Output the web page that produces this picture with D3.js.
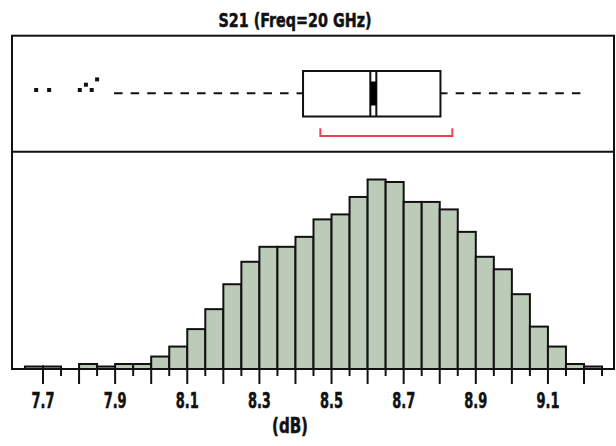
<!DOCTYPE html>
<html><head><meta charset="utf-8">
<script src="https://cdn.jsdelivr.net/npm/d3@7"></script>
<style>body{margin:0;background:#fff;}svg{display:block;}</style>
</head><body>
<svg id="c" width="616" height="446"></svg>
<script>
// ---- data ----
const binStarts = [7.65,7.70,7.75,7.80,7.85,7.90,7.95,8.00,8.05,8.10,8.15,8.20,8.25,8.30,8.35,8.40,8.45,8.50,8.55,8.60,8.65,8.70,8.75,8.80,8.85,8.90,8.95,9.00,9.05,9.10,9.15,9.20];
const binCounts = [1,1,0,2,1,2,2,5,9,16,24,34,43,49,49,53,60,62,69,76,75,67,67,64,55,45,40,30,17,9,2,1];
const binWidth = 0.05;
const tickLabels = ["7.7","7.9","8.1","8.3","8.5","8.7","8.9","9.1"];
const boxStats = {low:7.897, q1:8.421, median:8.615, q3:8.802, high:9.190};
const shortestHalf = [8.469, 8.835];
const outliers = [7.681, 7.717, 7.802, 7.819, 7.835, 7.850];
const outlierJitter = [0, 0, 0, 1, 0, 2];
const title = "S21 (Freq=20 GHz)";
const xTitle = "(dB)";

// ---- layout ----
const svg = d3.select("#c");
const L = 12, R = 614, T = 35.7, MID = 151.7, B = 369;
const x = d3.scaleLinear().domain([7.7, 9.2]).range([43, 584]);
const y = d3.scaleLinear().domain([0, 76]).range([B, 179.5]);
const font = "'Liberation Sans Narrow','DejaVu Sans Condensed','Liberation Sans',sans-serif";

// title
svg.append("text").attr("x", 295).attr("y", 26.5).attr("text-anchor","middle")
  .attr("font-family", font).attr("font-weight","bold").attr("font-size",20)
  .attr("textLength",153).attr("lengthAdjust","spacingAndGlyphs")
  .attr("fill","#111").attr("stroke","#111").attr("stroke-width",0.5).text(title);

// histogram bars
svg.append("g").selectAll("rect").data(binStarts.map((s,i)=>({s,c:binCounts[i]})).filter(d=>d.c>0))
  .join("rect")
  .attr("x", d=>x(d.s)).attr("width", d=>x(d.s+binWidth)-x(d.s))
  .attr("y", d=>y(d.c)).attr("height", d=>y(0)-y(d.c))
  .attr("fill","#bccab8").attr("stroke","#111").attr("stroke-width",2);

// axis ticks
const major = d3.range(7.7, 9.2001, 0.1);
const minor = d3.range(7.75, 9.2501, 0.1);
const tg = svg.append("g").attr("stroke","#111").attr("stroke-width",2);
tg.selectAll(".mj").data(major).join("line").attr("class","mj")
  .attr("x1",d=>x(d)).attr("x2",d=>x(d)).attr("y1",B).attr("y2",B+15);
tg.selectAll(".mn").data(minor).join("line").attr("class","mn")
  .attr("x1",d=>x(d)).attr("x2",d=>x(d)).attr("y1",B).attr("y2",B+7);

svg.append("g").selectAll("text").data(tickLabels).join("text")
  .attr("x", d=>x(+d)).attr("y", 407.5).attr("text-anchor","middle")
  .attr("font-family", font).attr("font-weight","bold").attr("font-size",21)
  .attr("textLength",23).attr("lengthAdjust","spacingAndGlyphs")
  .attr("fill","#111").attr("stroke","#111").attr("stroke-width",0.5).text(d=>d);

svg.append("text").attr("x", 290).attr("y", 433).attr("text-anchor","middle")
  .attr("font-family", font).attr("font-weight","bold").attr("font-size",21)
  .attr("textLength",36).attr("lengthAdjust","spacingAndGlyphs")
  .attr("fill","#111").attr("stroke","#111").attr("stroke-width",0.5).text(xTitle);

// frame
svg.append("rect").attr("x",L).attr("y",T).attr("width",R-L).attr("height",B-T)
  .attr("fill","none").attr("stroke","#111").attr("stroke-width",2);
svg.append("line").attr("x1",L).attr("x2",R).attr("y1",MID).attr("y2",MID)
  .attr("stroke","#111").attr("stroke-width",2);

// box plot
const by0 = 71, by1 = 116.5, wy = 93.3;
const bg = svg.append("g").attr("stroke","#111").attr("stroke-width",2);
bg.append("line").attr("x1",x(boxStats.low)).attr("x2",x(boxStats.q1)-6.5).attr("y1",wy).attr("y2",wy)
  .attr("stroke-dasharray","8.5,8.1");
bg.append("line").attr("x1",x(boxStats.q1)-6.5).attr("x2",x(boxStats.q1)).attr("y1",wy).attr("y2",wy);
bg.append("line").attr("x1",x(boxStats.q3)).attr("x2",x(boxStats.q3)+6).attr("y1",wy).attr("y2",wy);
bg.append("line").attr("x1",x(boxStats.high)).attr("x2",x(boxStats.q3)+6).attr("y1",wy).attr("y2",wy)
  .attr("stroke-dasharray","8.5,8.1");
bg.append("rect").attr("x",x(boxStats.q1)).attr("y",by0).attr("width",x(boxStats.q3)-x(boxStats.q1))
  .attr("height",by1-by0).attr("fill","none");
bg.append("line").attr("x1",x(boxStats.median)-2.7).attr("x2",x(boxStats.median)-2.7).attr("y1",by0).attr("y2",by1);
bg.append("line").attr("x1",x(boxStats.median)+3.3).attr("x2",x(boxStats.median)+3.3).attr("y1",by0).attr("y2",by1);
svg.append("rect").attr("x",x(boxStats.median)-2.5).attr("width",6).attr("y",81.5).attr("height",24)
  .attr("fill","#000");

// shortest half bracket
const sh0 = x(shortestHalf[0]), sh1 = x(shortestHalf[1]);
svg.append("path").attr("d",`M${sh0},128.3V136H${sh1}V128.3`)
  .attr("fill","none").attr("stroke","#ee3f57").attr("stroke-width",2);

// outliers
svg.append("g").selectAll("rect").data(outliers).join("rect")
  .attr("x",d=>x(d)-2).attr("y",(d,i)=>90-2-outlierJitter[i]*5.3).attr("width",4).attr("height",4)
  .attr("fill","#111");
</script>
</body></html>
